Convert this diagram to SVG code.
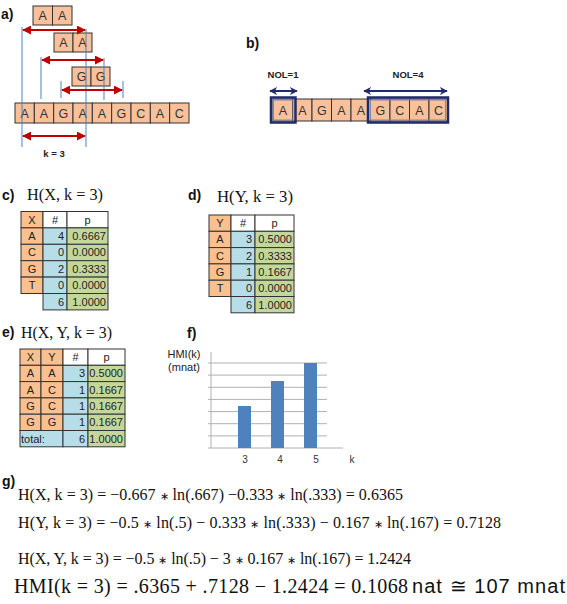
<svg xmlns="http://www.w3.org/2000/svg" width="567" height="604" viewBox="0 0 567 604">
<style>
.lbl{font-family:"Liberation Sans",Arial,sans-serif;font-weight:bold;font-size:14px;fill:#111}
.sq{fill:#F9C19B;stroke:#333;stroke-width:1}
.sqt{font-family:"Liberation Sans",Arial,sans-serif;font-size:12.5px;fill:#333;text-anchor:middle}
.vl{stroke:#4F81BD;stroke-width:1}
.ra{stroke:#C00000;stroke-width:2;marker-start:url(#rh);marker-end:url(#rh)}
.na{stroke:#1F2A6B;stroke-width:2;marker-start:url(#nh);marker-end:url(#nh)}
.nb{fill:none;stroke:#1F2A6B;stroke-width:2.5}
.nbi{fill:none;stroke:#7F86B5;stroke-width:1}
.small{font-family:"Liberation Sans",Arial,sans-serif;font-weight:bold;font-size:9.5px;fill:#222;text-anchor:middle}
.math{font-family:"Liberation Serif","Times New Roman",serif;font-size:16px;fill:#111}
.op{font-size:11px}
.o{fill:#FAC090;stroke:#333;stroke-width:1}
.b{fill:#B7DEE8;stroke:#333;stroke-width:1}
.g{fill:#C4D79B;stroke:#333;stroke-width:1}
.w{fill:#fff;stroke:#333;stroke-width:1}
.ct{font-family:"Liberation Sans",Arial,sans-serif;font-size:11px;fill:#222}
.c{text-anchor:middle}
.r{text-anchor:end}
.grid{stroke:#B0B0B0;stroke-width:1}
.bar{fill:#4F81BD}
.ax{font-family:"Liberation Sans",Arial,sans-serif;font-size:10px;fill:#333;text-anchor:middle}
</style>
<defs>
<marker id="rh" viewBox="0 0 10 10" refX="9" refY="5" markerWidth="4.5" markerHeight="4.5" orient="auto-start-reverse" markerUnits="strokeWidth"><path d="M0,0 L10,5 L0,10 z" fill="#C00000"/></marker>
<marker id="nh" viewBox="0 0 10 10" refX="9" refY="5" markerWidth="4" markerHeight="4" orient="auto-start-reverse" markerUnits="strokeWidth"><path d="M0,0 L10,5 L0,10 L3,5 z" fill="#1F2A6B"/></marker>
</defs>

<!-- panel a -->
<g id="panel-a">
<text class="lbl" x="1" y="19">a)</text>
<g id="a-top1">
<rect class="sq" x="33" y="6" width="19.5" height="19"/><rect class="sq" x="52.5" y="6" width="19.5" height="19"/>
<text class="sqt" x="42.7" y="20">A</text><text class="sqt" x="62.2" y="20">A</text>
</g>
<g id="a-top2">
<rect class="sq" x="54" y="33" width="19" height="19"/><rect class="sq" x="73" y="33" width="19" height="19"/>
<text class="sqt" x="63.5" y="47">A</text><text class="sqt" x="82.5" y="47">A</text>
</g>
<g id="a-top3">
<rect class="sq" x="72" y="67" width="19" height="19"/><rect class="sq" x="91" y="67" width="19" height="19"/>
<text class="sqt" x="81.5" y="81">G</text><text class="sqt" x="100.5" y="81">G</text>
</g>
<g id="a-row">
<rect class="sq" x="15" y="103" width="19.33" height="20"/>
<rect class="sq" x="34.33" y="103" width="19.33" height="20"/>
<rect class="sq" x="53.67" y="103" width="19.33" height="20"/>
<rect class="sq" x="73" y="103" width="19.33" height="20"/>
<rect class="sq" x="92.33" y="103" width="19.33" height="20"/>
<rect class="sq" x="111.67" y="103" width="19.33" height="20"/>
<rect class="sq" x="131" y="103" width="19.33" height="20"/>
<rect class="sq" x="150.33" y="103" width="19.33" height="20"/>
<rect class="sq" x="169.67" y="103" width="19.33" height="20"/>
<text class="sqt" x="24.7" y="117.5">A</text>
<text class="sqt" x="44" y="117.5">A</text>
<text class="sqt" x="63.3" y="117.5">G</text>
<text class="sqt" x="82.7" y="117.5">A</text>
<text class="sqt" x="102" y="117.5">A</text>
<text class="sqt" x="121.3" y="117.5">G</text>
<text class="sqt" x="140.7" y="117.5">C</text>
<text class="sqt" x="160" y="117.5">A</text>
<text class="sqt" x="179.3" y="117.5">C</text>
</g>
<g id="a-connectors">
<line class="vl" x1="22" y1="27" x2="22" y2="147"/>
<line class="vl" x1="86" y1="29" x2="86" y2="147"/>
<line class="vl" x1="41" y1="57" x2="41" y2="99"/>
<line class="vl" x1="104" y1="58" x2="104" y2="100"/>
<line class="vl" x1="61" y1="81" x2="61" y2="98"/>
<line class="vl" x1="123" y1="81" x2="123" y2="98"/>
<line class="ra" x1="23" y1="30" x2="85" y2="30"/>
<line class="ra" x1="42" y1="60" x2="103" y2="60"/>
<line class="ra" x1="62" y1="90" x2="122" y2="90"/>
<line class="ra" x1="23" y1="136" x2="85" y2="136"/>
</g>
<text class="small" x="54" y="157">k = 3</text>
</g>

<!-- panel b -->
<g id="panel-b">
<text class="lbl" x="246" y="48">b)</text>
<text class="small" x="283" y="78">NOL=1</text>
<text class="small" x="408" y="78">NOL=4</text>
<g id="b-row">
<rect class="sq" x="273" y="99" width="19.5" height="22"/>
<rect class="sq" x="292.5" y="99" width="19.5" height="22"/>
<rect class="sq" x="312" y="99" width="19.5" height="22"/>
<rect class="sq" x="331.5" y="99" width="19.5" height="22"/>
<rect class="sq" x="351" y="99" width="19.5" height="22"/>
<rect class="sq" x="370.5" y="99" width="19.5" height="22"/>
<rect class="sq" x="390" y="99" width="19.5" height="22"/>
<rect class="sq" x="409.5" y="99" width="19.5" height="22"/>
<rect class="sq" x="429" y="99" width="19" height="22"/>
<text class="sqt" x="283" y="115">A</text>
<text class="sqt" x="302.3" y="115">A</text>
<text class="sqt" x="321.8" y="115">G</text>
<text class="sqt" x="341.3" y="115">A</text>
<text class="sqt" x="360.8" y="115">A</text>
<text class="sqt" x="380.3" y="115">G</text>
<text class="sqt" x="399.8" y="115">C</text>
<text class="sqt" x="419.3" y="115">A</text>
<text class="sqt" x="438.5" y="115">C</text>
</g>
<rect class="nb" x="271" y="97.5" width="24.5" height="25"/>
<rect class="nbi" x="273.5" y="100" width="19.5" height="20"/>
<rect class="nb" x="368" y="97.5" width="80" height="25"/>
<rect class="nbi" x="370.5" y="100" width="75" height="20"/>
<g id="b-connectors">
<line class="na" x1="270" y1="91" x2="297" y2="91"/>
<line class="na" x1="364" y1="91" x2="447" y2="91"/>
</g>
</g>

<!-- panel c -->
<g id="panel-c">
<text class="lbl" x="2" y="200">c)</text>
<text class="math" x="27" y="200" textLength="76" lengthAdjust="spacingAndGlyphs">H(X, k = 3)</text>
<g id="table-c">
<rect class="o" x="21" y="211.5" width="22" height="16.4"/><rect class="w" x="43" y="211.5" width="24" height="16.4"/><rect class="w" x="67" y="211.5" width="41" height="16.4"/>
<rect class="o" x="21" y="227.9" width="22" height="16.4"/><rect class="b" x="43" y="227.9" width="24" height="16.4"/><rect class="g" x="67" y="227.9" width="41" height="16.4"/>
<rect class="o" x="21" y="244.3" width="22" height="16.4"/><rect class="b" x="43" y="244.3" width="24" height="16.4"/><rect class="g" x="67" y="244.3" width="41" height="16.4"/>
<rect class="o" x="21" y="260.7" width="22" height="16.4"/><rect class="b" x="43" y="260.7" width="24" height="16.4"/><rect class="g" x="67" y="260.7" width="41" height="16.4"/>
<rect class="o" x="21" y="277.1" width="22" height="16.4"/><rect class="b" x="43" y="277.1" width="24" height="16.4"/><rect class="g" x="67" y="277.1" width="41" height="16.4"/>
<rect class="b" x="43" y="293.5" width="24" height="16.4"/><rect class="g" x="67" y="293.5" width="41" height="16.4"/>
<text class="ct c" x="32" y="223.5">X</text><text class="ct c" x="55" y="223.5">#</text><text class="ct c" x="87.5" y="223.5">p</text>
<text class="ct c" x="32" y="239.9">A</text><text class="ct r" x="64" y="239.9">4</text><text class="ct r" x="106" y="239.9">0.6667</text>
<text class="ct c" x="32" y="256.3">C</text><text class="ct r" x="64" y="256.3">0</text><text class="ct r" x="106" y="256.3">0.0000</text>
<text class="ct c" x="32" y="272.7">G</text><text class="ct r" x="64" y="272.7">2</text><text class="ct r" x="106" y="272.7">0.3333</text>
<text class="ct c" x="32" y="289.1">T</text><text class="ct r" x="64" y="289.1">0</text><text class="ct r" x="106" y="289.1">0.0000</text>
<text class="ct r" x="64" y="305.5">6</text><text class="ct r" x="106" y="305.5">1.0000</text>
</g>
</g>

<!-- panel d -->
<g id="panel-d">
<text class="lbl" x="188" y="200">d)</text>
<text class="math" x="217" y="202" textLength="76" lengthAdjust="spacingAndGlyphs">H(Y, k = 3)</text>
<g id="table-d">
<rect class="o" x="209" y="215" width="22" height="16.3"/><rect class="w" x="231" y="215" width="24" height="16.3"/><rect class="w" x="255" y="215" width="39" height="16.3"/>
<rect class="o" x="209" y="231.3" width="22" height="16.3"/><rect class="b" x="231" y="231.3" width="24" height="16.3"/><rect class="g" x="255" y="231.3" width="39" height="16.3"/>
<rect class="o" x="209" y="247.6" width="22" height="16.3"/><rect class="b" x="231" y="247.6" width="24" height="16.3"/><rect class="g" x="255" y="247.6" width="39" height="16.3"/>
<rect class="o" x="209" y="263.9" width="22" height="16.3"/><rect class="b" x="231" y="263.9" width="24" height="16.3"/><rect class="g" x="255" y="263.9" width="39" height="16.3"/>
<rect class="o" x="209" y="280.2" width="22" height="16.3"/><rect class="b" x="231" y="280.2" width="24" height="16.3"/><rect class="g" x="255" y="280.2" width="39" height="16.3"/>
<rect class="b" x="231" y="296.5" width="24" height="16.3"/><rect class="g" x="255" y="296.5" width="39" height="16.3"/>
<text class="ct c" x="220" y="227">Y</text><text class="ct c" x="243" y="227">#</text><text class="ct c" x="274.5" y="227" fill="#7F3F3F">p</text>
<text class="ct c" x="220" y="243.3">A</text><text class="ct r" x="252" y="243.3">3</text><text class="ct r" x="292" y="243.3">0.5000</text>
<text class="ct c" x="220" y="259.6">C</text><text class="ct r" x="252" y="259.6">2</text><text class="ct r" x="292" y="259.6">0.3333</text>
<text class="ct c" x="220" y="275.9">G</text><text class="ct r" x="252" y="275.9">1</text><text class="ct r" x="292" y="275.9">0.1667</text>
<text class="ct c" x="220" y="292.2">T</text><text class="ct r" x="252" y="292.2">0</text><text class="ct r" x="292" y="292.2">0.0000</text>
<text class="ct r" x="252" y="308.5">6</text><text class="ct r" x="292" y="308.5">1.0000</text>
</g>
</g>

<!-- panel e -->
<g id="panel-e">
<text class="lbl" x="2" y="337">e)</text>
<text class="math" x="21" y="338" textLength="91" lengthAdjust="spacingAndGlyphs">H(X, Y, k = 3)</text>
<g id="table-e">
<rect class="o" x="20" y="349" width="21" height="16.3"/><rect class="o" x="41" y="349" width="22" height="16.3"/><rect class="w" x="63" y="349" width="25" height="16.3"/><rect class="w" x="88" y="349" width="37" height="16.3"/>
<rect class="o" x="20" y="365.3" width="21" height="16.3"/><rect class="o" x="41" y="365.3" width="22" height="16.3"/><rect class="b" x="63" y="365.3" width="25" height="16.3"/><rect class="g" x="88" y="365.3" width="37" height="16.3"/>
<rect class="o" x="20" y="381.6" width="21" height="16.3"/><rect class="o" x="41" y="381.6" width="22" height="16.3"/><rect class="b" x="63" y="381.6" width="25" height="16.3"/><rect class="g" x="88" y="381.6" width="37" height="16.3"/>
<rect class="o" x="20" y="397.9" width="21" height="16.3"/><rect class="o" x="41" y="397.9" width="22" height="16.3"/><rect class="b" x="63" y="397.9" width="25" height="16.3"/><rect class="g" x="88" y="397.9" width="37" height="16.3"/>
<rect class="o" x="20" y="414.2" width="21" height="16.3"/><rect class="o" x="41" y="414.2" width="22" height="16.3"/><rect class="b" x="63" y="414.2" width="25" height="16.3"/><rect class="g" x="88" y="414.2" width="37" height="16.3"/>
<rect class="b" x="20" y="430.5" width="43" height="16.3"/><rect class="b" x="63" y="430.5" width="25" height="16.3"/><rect class="g" x="88" y="430.5" width="37" height="16.3"/>
<text class="ct c" x="30.5" y="361">X</text><text class="ct c" x="52" y="361">Y</text><text class="ct c" x="75.5" y="361">#</text><text class="ct c" x="106.5" y="361" fill="#7F3F3F">p</text>
<text class="ct c" x="30.5" y="377.3">A</text><text class="ct c" x="52" y="377.3">A</text><text class="ct r" x="85" y="377.3">3</text><text class="ct r" x="123" y="377.3">0.5000</text>
<text class="ct c" x="30.5" y="393.6">A</text><text class="ct c" x="52" y="393.6">C</text><text class="ct r" x="85" y="393.6">1</text><text class="ct r" x="123" y="393.6">0.1667</text>
<text class="ct c" x="30.5" y="409.9">G</text><text class="ct c" x="52" y="409.9">C</text><text class="ct r" x="85" y="409.9">1</text><text class="ct r" x="123" y="409.9">0.1667</text>
<text class="ct c" x="30.5" y="426.2">G</text><text class="ct c" x="52" y="426.2">G</text><text class="ct r" x="85" y="426.2">1</text><text class="ct r" x="123" y="426.2">0.1667</text>
<text class="ct" x="21" y="442.5">total:</text><text class="ct r" x="85" y="442.5">6</text><text class="ct r" x="123" y="442.5">1.0000</text>
</g>
</g>

<!-- panel f -->
<g id="panel-f">
<text class="lbl" x="187" y="338">f)</text>
<text class="ct c" x="184" y="358" font-size="10">HMI(k)</text>
<text class="ct c" x="184" y="371" font-size="10">(mnat)</text>
<g id="chart">
<line class="grid" x1="211" y1="352" x2="211" y2="448"/>
<line class="grid" x1="208" y1="363" x2="327" y2="363"/>
<line class="grid" x1="208" y1="375.1" x2="327" y2="375.1"/>
<line class="grid" x1="208" y1="387.3" x2="327" y2="387.3"/>
<line class="grid" x1="208" y1="399.4" x2="327" y2="399.4"/>
<line class="grid" x1="208" y1="411.6" x2="327" y2="411.6"/>
<line class="grid" x1="208" y1="423.7" x2="327" y2="423.7"/>
<line class="grid" x1="208" y1="435.9" x2="327" y2="435.9"/>
<line class="grid" x1="208" y1="448" x2="343" y2="448"/>
<rect class="bar" x="238" y="406" width="13" height="42"/>
<rect class="bar" x="271" y="381" width="13" height="67"/>
<rect class="bar" x="304" y="363" width="13" height="85"/>
<text class="ax" x="245" y="463">3</text>
<text class="ax" x="280" y="463">4</text>
<text class="ax" x="316" y="463">5</text>
<text class="ax" x="352" y="463">k</text>
</g>
</g>

<!-- panel g -->
<g id="panel-g">
<text class="lbl" x="2" y="486">g)</text>
<text class="math" x="18" y="500" textLength="385" lengthAdjust="spacing">H(X, k = 3) = −0.667 <tspan class="op">∗</tspan> ln(.667) −0.333 <tspan class="op">∗</tspan> ln(.333) = 0.6365</text>
<text class="math" x="18" y="528" textLength="483" lengthAdjust="spacing">H(Y, k = 3) = −0.5 <tspan class="op">∗</tspan> ln(.5) − 0.333 <tspan class="op">∗</tspan> ln(.333) − 0.167 <tspan class="op">∗</tspan> ln(.167) = 0.7128</text>
<text class="math" x="18" y="564" textLength="393" lengthAdjust="spacing">H(X, Y, k = 3) = −0.5 <tspan class="op">∗</tspan> ln(.5) − 3 <tspan class="op">∗</tspan> 0.167 <tspan class="op">∗</tspan> ln(.167) = 1.2424</text>
<text x="14" y="593" font-family="'Liberation Serif','Times New Roman',serif" font-size="20" fill="#111" textLength="394" lengthAdjust="spacing">HMI(k = 3) = .6365 +  .7128  − 1.2424 = 0.1068</text>
<text x="412" y="593" font-family="'Liberation Sans',Arial,sans-serif" font-size="20" fill="#111" textLength="153" lengthAdjust="spacing">nat ≅ 107 mnat</text>
</g>
</svg>
